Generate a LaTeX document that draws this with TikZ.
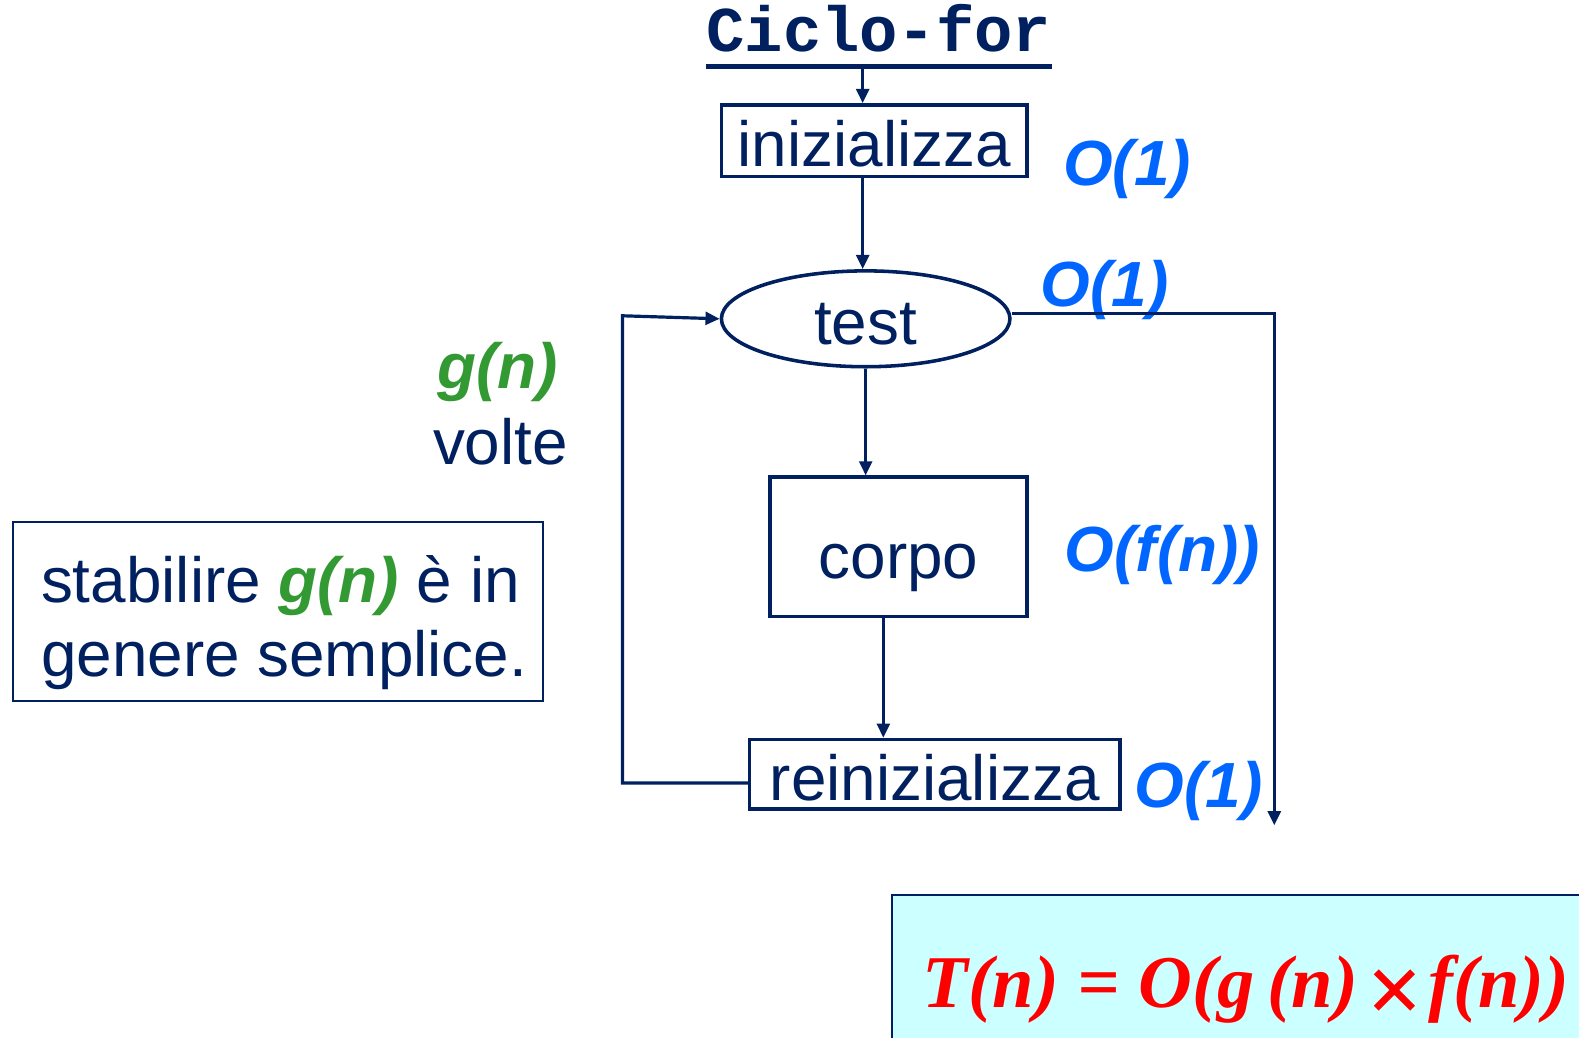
\documentclass[tikz,border=0pt]{standalone}
\usepackage{fontspec}
\setmainfont{Liberation Sans}
\newfontfamily\monofont{Liberation Mono}
\newfontfamily\serifont{Liberation Serif}
\definecolor{navy1}{RGB}{0, 32, 96}
\definecolor{oblue}{RGB}{0, 102, 255}
\definecolor{ggreen}{RGB}{51, 153, 51}
\definecolor{tred}{RGB}{255, 0, 0}
\definecolor{cyan1}{RGB}{204, 255, 255}
\usetikzlibrary{shapes.geometric, arrows.meta}
\newcommand{\slidesize}{\fontsize{18pt}{20.8pt}\selectfont}

\begin{document}
\begin{tikzpicture}[x=0.1mm, y=-0.1mm,
  box/.style={draw=navy1, line width=1pt, inner sep=0pt, text height=14.5pt, text depth=0pt, font=\slidesize, text=navy1},
  cost/.style={text=oblue, font=\slidesize\bfseries\itshape, anchor=base, inner sep=0pt},
  flow/.style={draw=navy1, line width=0.9pt, -{Triangle[length=4pt, width=3.6pt]}}]
  \useasboundingbox (0,0) rectangle (1565,1028);

  % Title
  \node[font=\monofont\bfseries\slidesize, text=navy1, anchor=base, inner sep=0pt] (title) at (871,51) {Ciclo-for};
  \draw[navy1, line width=1.4pt] ([yshift=-4.3pt]title.base west) -- ([yshift=-4.3pt]title.base east);
  \coordinate (ul) at (855,68);

  % Flow blocks
  \node[box, minimum width=30.3mm, minimum height=7.1mm] (ini) at (866.5,139.5) {inizializza};
  \node[box, ellipse, minimum width=28.6mm, minimum height=9.5mm] (test) at (858,316) {test};
  \node[box, minimum width=25.5mm, minimum height=13.8mm, text height=18pt] (corpo) at (890.5,542) {corpo};
  \node[box, minimum width=36.7mm, minimum height=6.9mm] (reini) at (926.5,767.5) {reinizializza};

  % Costs
  \node[cost] (c1) at (1117,184) {O(1)};
  \node[cost] (c2) at (1095,304) {O(1)};
  \node[cost] (c3) at (1152,566) {O(f(n))};
  \node[cost] (c4) at (1188,800) {O(1)};

  % Connectors
  \draw[flow] (ul) -- (ul |- ini.north);
  \draw[flow] (ul |- ini.south) -- (ul |- test.north);
  \draw[flow] (test.south) -- (test.south |- corpo.north);
  \draw[flow] ([xshift=-1.5mm]corpo.south) -- ([xshift=-1.5mm]corpo.south |- reini.north);
  \coordinate (exit) at (1263,818);
  \draw[flow] ([yshift=0.5mm]test.east) -| (exit);
  \coordinate (back) at (617,313);
  \draw[flow] ([yshift=-0.85mm]reini.west) -| (back) -- (test.west);

  % Loop count
  \node[font=\slidesize\bfseries\itshape, text=ggreen, anchor=base] (gn) at (493,385) {g(n)};
  \node[font=\slidesize, text=navy1, anchor=base] (volte) at (496,460) {volte};

  % Note
  \node[draw=navy1, line width=0.6pt, minimum width=52.5mm, minimum height=17.8mm] (note) at (275.5,606) {};
  \node[anchor=north west, align=left, inner sep=0pt, font=\slidesize, text=navy1] (notetxt) at (40,550) {stabilire \textcolor{ggreen}{\bfseries\itshape g(n)} è in\\genere semplice.};

  % Result
  \node[draw=navy1, line width=0.6pt, fill=cyan1, anchor=north west, minimum width=75mm, minimum height=20mm] (tbox) at (883,886) {};
  \node[font=\serifont\bfseries\itshape\fontsize{21pt}{25pt}\selectfont, text=tred, anchor=base, inner sep=0pt] (formula) at (1235,999) {T(n) = O(g\,(n)\kern2pt\raisebox{-4.5pt}{\fontsize{28pt}{25pt}\selectfont ×}\kern2pt f(n))};
\end{tikzpicture}
\end{document}
